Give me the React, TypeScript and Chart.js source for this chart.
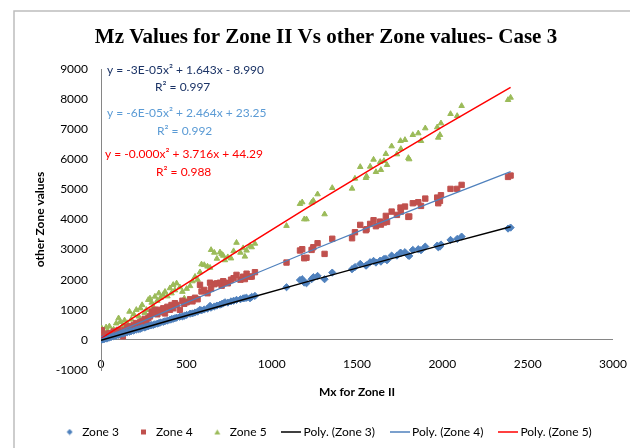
import { useEffect, useRef } from 'react';
import { Chart, registerables } from 'chart.js';

Chart.register(...registerables);

// Mx for Zone II (shared x values)
const mxZoneII = [
  5, 12, 20, 30, 39, 49, 59, 74, 89, 103, 113, 128, 138, 153, 167, 177, 192, 207, 221, 231,
  241, 256, 266, 277, 287, 297, 307, 316, 330, 339, 349, 365, 375, 389, 404, 413, 423, 433, 443, 462,
  477, 488, 502, 522, 536, 551, 566, 580, 589, 605, 624, 639, 645, 664, 679, 697, 707, 716, 726, 743,
  762, 777, 794, 817, 833, 843, 853, 873, 883, 902,
  1087, 1166, 1179, 1191, 1204, 1234, 1244, 1269, 1310, 1355,
  1471, 1488, 1519, 1552, 1556, 1577, 1597, 1611, 1636, 1640, 1658, 1669, 1676, 1703, 1734, 1755, 1757, 1781,
  1801, 1806, 1827, 1859, 1875, 1900, 1970, 1976, 1986, 1992, 2048, 2087, 2113, 2385, 2400,
];

const zone3 = [
  10, 20, 30, 45, 60, 80, 95, 120, 140, 170, 185, 210, 225, 250, 270, 290, 310, 340, 360, 370,
  400, 410, 440, 450, 480, 490, 500, 520, 540, 560, 580, 600, 620, 640, 670, 690, 700, 720, 740, 770,
  780, 800, 830, 870, 880, 910, 940, 997, 980, 1010, 1040, 1130, 1070, 1110, 1140, 1170, 1190, 1210, 1250, 1240,
  1280, 1300, 1330, 1350, 1380, 1390, 1400, 1384, 1430, 1462,
  1750, 1990, 2016, 1904, 1882, 2016, 2083, 2126, 2016, 2236,
  2349, 2420, 2525, 2469, 2480, 2581, 2625, 2569, 2635, 2600, 2690, 2691, 2647, 2801, 2801, 2900, 2880, 2913,
  2801, 2790, 2990, 3013, 2980, 3100, 3133, 3080, 3100, 3170, 3322, 3355, 3432, 3698, 3731,
];

const zone4 = [
  320, 60, 150, 200, 100, 220, 150, 280, 200, 330, 250, 120, 330, 420, 450, 380, 500, 560, 480, 600,
  620, 700, 560, 720, 780, 940, 880, 1000, 850, 1000, 920, 1050, 880, 1100, 1000, 1160, 1050, 1220, 1160, 1000,
  1300, 1200, 1250, 1350, 1280, 1400, 1350, 1830, 1610, 1660, 1550, 1900, 1700, 1850, 1880, 1900, 1800, 1950, 1900, 1880,
  2000, 2050, 2160, 2000, 2100, 2020, 2200, 2100, 2104, 2250,
  2570, 2970, 3013, 2713, 2730, 2990, 3079, 3211, 2857, 3360,
  3378, 3577, 3821, 3644, 3677, 3854, 3976, 3777, 3930, 3831, 3900, 4120, 3920, 4263, 4153, 4396, 4263, 4430,
  4086, 4100, 4540, 4574, 4452, 4695, 4728, 4540, 4618, 4806, 5017, 5017, 5150, 5415, 5460,
];

const zone5 = [
  380, 150, 250, 420, 300, 450, 200, 350, 550, 720, 600, 480, 650, 560, 940, 680, 850, 1000, 780, 1050,
  1160, 900, 1000, 1330, 1380, 1240, 1100, 1440, 1300, 1550, 1400, 1500, 1600, 1450, 1720, 1550, 1830, 1650, 1880, 1750,
  1600, 1380, 1700, 1790, 1950, 2100, 2000, 2250, 2510, 2490, 2440, 2400, 2990, 2900, 2700, 2910, 2850, 2800, 2650, 2750,
  2710, 2950, 3230, 2900, 3050, 2770, 2970, 3120, 3080, 3200,
  3790, 4520, 4574, 4010, 4010, 4562, 4628, 4840, 4176, 5050,
  5028, 5360, 5748, 5382, 5437, 5759, 5991, 5581, 5914, 5648, 5947, 6179, 5814, 6434, 6169, 6611, 6346, 6645,
  6047, 6003, 6811, 6866, 6611, 7032, 7066, 6722, 6811, 7198, 7508, 7442, 7774, 7973, 8050,
];

// Polynomial trendlines
const trendX = [0, 400, 800, 1200, 1600, 2000, 2400];
const poly3 = [-9, 643, 1286, 1919, 2543, 3157, 3761];
const poly4 = [23, 999, 1956, 2894, 3812, 4711, 5591];
const poly5 = [44, 1515, 2953, 4360, 5734, 7076, 8387];

const seriesNames = ['Zone 3', 'Zone 4', 'Zone 5', 'Poly. (Zone 3)', 'Poly. (Zone 4)', 'Poly. (Zone 5)'];
const equationLines = [
  'y = -3E-05x² + 1.643x - 8.990',
  'R² = 0.997',
  'y = -6E-05x² + 2.464x + 23.25',
  'R² = 0.992',
  'y = -0.000x² + 3.716x + 44.29',
  'R² = 0.988',
];
const chartTitle = 'Mz Values for Zone II Vs other Zone values- Case 3';
const xTitle = 'Mx for Zone II';
const yTitle = 'other Zone values';

const SANS = 'Lato, "Open Sans", sans-serif';

const C3 = '#4F81BD';
const C4 = '#C0504D';
const C5 = '#9BBB59';

const framePlugin = {
  id: 'frame',
  beforeDraw(chart: any) {
    const ctx = chart.ctx;
    ctx.save();
    ctx.fillStyle = '#ffffff';
    ctx.fillRect(0, 0, chart.width, chart.height);
    ctx.strokeStyle = '#BDBDBD';
    ctx.lineWidth = 1.5;
    ctx.beginPath();
    ctx.moveTo(14, chart.height);
    ctx.lineTo(14, 11);
    ctx.lineTo(chart.width, 11);
    ctx.stroke();
    ctx.restore();
  },
};

const titlePlugin = {
  id: 'customTitle',
  afterDraw(chart: any) {
    const ctx = chart.ctx;
    ctx.save();
    ctx.font = 'bold 21px "Liberation Serif", "Times New Roman", serif';
    ctx.fillStyle = '#000000';
    ctx.textAlign = 'center';
    ctx.textBaseline = 'middle';
    ctx.fillText(chartTitle, 326, 38);
    ctx.restore();
  },
};

const eqColors = ['#1B3366', '#1B3366', '#5B9BD5', '#5B9BD5', '#FF0000', '#FF0000'];
const eqPos: [number, number][] = [
  [107, 70], [155, 87], [107, 113], [157, 131], [105, 154], [156, 172],
];

const equationPlugin = {
  id: 'equations',
  afterDatasetsDraw(chart: any) {
    const ctx = chart.ctx;
    ctx.save();
    ctx.font = '12px ' + SANS;
    ctx.textAlign = 'left';
    ctx.textBaseline = 'middle';
    equationLines.forEach((t, i) => {
      ctx.fillStyle = eqColors[i];
      ctx.fillText(t, eqPos[i][0], eqPos[i][1]);
    });
    ctx.restore();
  },
};

function makeIcon(kind: string, color: string): HTMLCanvasElement {
  const c = document.createElement('canvas');
  if (kind === 'line') {
    c.width = 20; c.height = 4;
    const g = c.getContext('2d')!;
    g.strokeStyle = color; g.lineWidth = 1.5;
    g.beginPath(); g.moveTo(0, 2); g.lineTo(20, 2); g.stroke();
    return c;
  }
  c.width = 7; c.height = 7;
  const g = c.getContext('2d')!;
  g.fillStyle = color;
  g.beginPath();
  if (kind === 'diamond') {
    g.moveTo(3.5, 0.5); g.lineTo(6.5, 3.5); g.lineTo(3.5, 6.5); g.lineTo(0.5, 3.5);
  } else if (kind === 'square') {
    g.rect(1, 1, 5, 5);
  } else {
    g.moveTo(3.5, 1); g.lineTo(6.5, 6); g.lineTo(0.5, 6);
  }
  g.closePath(); g.fill();
  return c;
}

export default function App() {
  const ref = useRef<HTMLCanvasElement>(null);

  useEffect(() => {
    const canvas = ref.current;
    if (!canvas) return;

    const icons = [
      makeIcon('diamond', C3), makeIcon('square', C4), makeIcon('triangle', C5),
      makeIcon('line', '#000000'), makeIcon('line', C3), makeIcon('line', '#FF0000'),
    ];

    const pts = (ys: number[]) => mxZoneII.map((x, i) => ({ x, y: ys[i] }));
    const tpts = (ys: number[]) => trendX.map((x, i) => ({ x, y: ys[i] }));

    const scatterDs = (label: string, data: any[], color: string, style: string, radius: number, order: number) => ({
      label,
      data,
      showLine: false,
      pointStyle: style,
      pointRadius: radius,
      pointBackgroundColor: color,
      pointBorderColor: color,
      pointBorderWidth: 1,
      backgroundColor: color,
      borderColor: color,
      order,
    });
    const lineDs = (label: string, data: any[], color: string, width: number, order: number) => ({
      label,
      data,
      showLine: true,
      fill: false,
      tension: 0,
      borderColor: color,
      borderWidth: width,
      backgroundColor: color,
      pointRadius: 0,
      pointHoverRadius: 0,
      pointStyle: 'line',
      pointBorderColor: color,
      pointBackgroundColor: color,
      pointBorderWidth: width,
      order,
    });

    const tickFont = { family: SANS, size: 12 };
    const titleFont = { family: SANS, size: 12, weight: 'bold' as const };

    const chart = new Chart(canvas, {
      type: 'scatter',
      data: {
        datasets: [
          scatterDs(seriesNames[0], pts(zone3), C3, 'rectRot', 3.6, 10),
          scatterDs(seriesNames[1], pts(zone4), C4, 'rect', 3.8, 11),
          scatterDs(seriesNames[2], pts(zone5), C5, 'triangle', 3.2, 12),
          lineDs(seriesNames[3], tpts(poly3), '#000000', 1.5, 1),
          lineDs(seriesNames[4], tpts(poly4), C3, 1.2, 2),
          lineDs(seriesNames[5], tpts(poly5), '#FF0000', 1.5, 3),
        ] as any,
      },
      options: {
        animation: false,
        responsive: false,
        devicePixelRatio: 1,
        events: [],
        layout: { padding: { left: 42, right: 17, top: 69, bottom: 0 } },
        scales: {
          x: {
            type: 'linear',
            min: 0,
            max: 3000,
            ticks: {
              stepSize: 500, mirror: true, padding: -1, font: tickFont, color: '#000000', maxRotation: 0,
              callback: (v: any) => String(v),
            },
            grid: { display: false, drawTicks: false },
            border: { display: false },
            title: { display: true, text: xTitle, font: titleFont, color: '#000000', padding: { top: 0, bottom: 8.8 } },
            afterFit: (s: any) => { s.height = 38; },
          },
          y: {
            type: 'linear',
            min: -1000,
            max: 9000,
            ticks: { stepSize: 1000, padding: 13, font: tickFont, color: '#000000', callback: (v: any) => String(v) },
            grid: {
              drawTicks: false,
              lineWidth: 1,
              color: (c: any) => (c.tick && c.tick.value === 0 ? '#868686' : 'rgba(0,0,0,0)'),
            },
            border: { display: true, color: '#868686', width: 1 },
            title: { display: true, text: yTitle, font: titleFont, color: '#000000', padding: { top: -9.2, bottom: 0 } },
            afterFit: (s: any) => { s.width = 59; },
          },
        },
        plugins: {
          title: { display: false },
          tooltip: { enabled: false },
          legend: {
            display: true,
            position: 'bottom',
            labels: {
              usePointStyle: true,
              pointStyleWidth: 13,
              boxHeight: 7,
              padding: 18,
              font: { family: SANS, size: 12 },
              color: '#000000',
              sort: (a: any, b: any) => a.datasetIndex - b.datasetIndex,
              generateLabels: (ch: any) => {
                const items = (Chart.defaults.plugins.legend.labels.generateLabels as any)(ch);
                return items.map((it: any) => ({ ...it, pointStyle: icons[it.datasetIndex] }));
              },
            },
          },
        },
      } as any,
      plugins: [framePlugin, titlePlugin, equationPlugin],
    });

    return () => chart.destroy();
  }, []);

  return (
    <div style={{ position: 'fixed', left: 0, top: 0, width: 630, height: 448, background: '#fff' }}>
      <canvas ref={ref} width={630} height={448} style={{ display: 'block', width: 630, height: 448 }} />
    </div>
  );
}
